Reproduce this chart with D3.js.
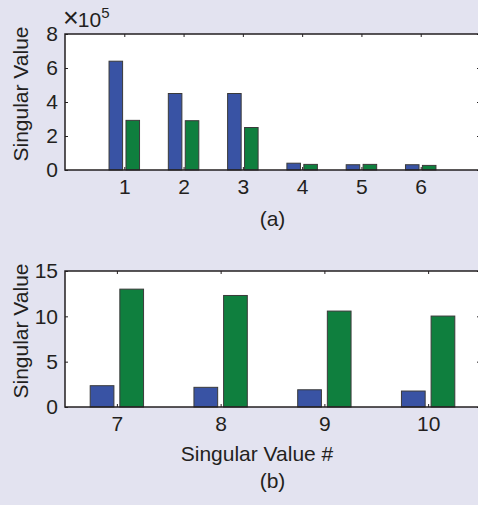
<!DOCTYPE html>
<html>
<head>
<meta charset="utf-8">
<script src="https://cdn.jsdelivr.net/npm/d3@7"></script>
<style>
  html, body { margin: 0; padding: 0; background: #e3e3f0; }
  svg { display: block; font-family: "Liberation Sans", Arial, Helvetica, sans-serif; }
</style>
</head>
<body>
<svg id="chart" width="478" height="505"></svg>
<script>
// Panel (a): first six singular values (units of 1e5)
const catsA = [1, 2, 3, 4, 5, 6];
const seriesA1 = [6.4, 4.5, 4.5, 0.4, 0.31, 0.31];
const seriesA2 = [2.92, 2.9, 2.5, 0.33, 0.33, 0.27];
const ticksAY = [0, 2, 4, 6, 8];

// Panel (b): singular values 7-10
const catsB = [7, 8, 9, 10];
const seriesB1 = [2.35, 2.17, 1.9, 1.76];
const seriesB2 = [13.0, 12.3, 10.58, 10.03];
const ticksBY = [0, 5, 10, 15];

const colors = ["#3953a4", "#0f7f3e"];
const ink = "#231f20";

const svg = d3.select("#chart");

// grouped-bar geometry in category units (two series per group)
const groupW = 2 / 3.5;
const barW = groupW / 2 * 0.8;
const offsets = [-groupW / 4, groupW / 4];

function panel(opt) {
  const { left, right, top, bottom, xDomain, yDomain, cats, s1, s2, yTicks, label, tagY } = opt;
  const x = d3.scaleLinear().domain(xDomain).range([left, right]);
  const y = d3.scaleLinear().domain(yDomain).range([bottom, top]);
  const g = svg.append("g");

  // plot background
  g.append("rect").attr("x", left).attr("y", top)
    .attr("width", right - left).attr("height", bottom - top)
    .attr("fill", "#ffffff");

  // bars
  [s1, s2].forEach((s, si) => {
    g.selectAll(null).data(cats).enter().append("rect")
      .attr("x", (d) => x(d + offsets[si] - barW / 2))
      .attr("width", (d) => x(d + offsets[si] + barW / 2) - x(d + offsets[si] - barW / 2))
      .attr("y", (d, i) => y(s[i]))
      .attr("height", (d, i) => y(0) - y(s[i]))
      .attr("fill", colors[si])
      .attr("stroke", "#3a3a3a")
      .attr("stroke-width", 1);
  });

  const tickLen = 3;
  const axStyle = (sel) => {
    sel.select(".domain").remove();
    sel.selectAll(".tick line").attr("stroke", ink).attr("stroke-width", 1);
    sel.selectAll(".tick text").attr("fill", ink).style("font-size", "21px")
      .style("font-family", "'Liberation Sans', Arial, sans-serif");
  };

  // bottom axis (inward ticks)
  g.append("g").attr("transform", `translate(0,${bottom})`)
    .call(d3.axisBottom(x).tickValues(cats).tickFormat(d3.format("d"))
      .tickSizeInner(-tickLen).tickSizeOuter(0).tickPadding(9))
    .call(axStyle);
  // top axis ticks
  g.append("g").attr("transform", `translate(0,${top})`)
    .call(d3.axisTop(x).tickValues(cats).tickFormat("")
      .tickSizeInner(-tickLen).tickSizeOuter(0))
    .call(axStyle);
  // left axis
  g.append("g").attr("transform", `translate(${left},0)`)
    .call(d3.axisLeft(y).tickValues(yTicks).tickFormat(d3.format("d"))
      .tickSizeInner(-tickLen).tickSizeOuter(0).tickPadding(7))
    .call(axStyle);
  // right axis ticks
  g.append("g").attr("transform", `translate(${right},0)`)
    .call(d3.axisRight(y).tickValues(yTicks).tickFormat("")
      .tickSizeInner(-tickLen).tickSizeOuter(0))
    .call(axStyle);

  // frame
  g.append("rect").attr("x", left).attr("y", top)
    .attr("width", right - left).attr("height", bottom - top)
    .attr("fill", "none").attr("stroke", ink).attr("stroke-width", 1.5);

  // y label
  g.append("text")
    .attr("transform", `translate(28,${(top + bottom) / 2 - 8}) rotate(-90)`)
    .attr("text-anchor", "middle")
    .attr("fill", ink)
    .style("font-size", "21px")
    .text("Singular Value");

  // panel tag
  g.append("text").attr("x", (left + right) / 2).attr("y", tagY)
    .attr("text-anchor", "middle").attr("fill", ink)
    .style("font-size", "21px").text(label);

  return { x, y };
}

const left = 65, right = 480;

panel({ left, right, top: 34, bottom: 170, xDomain: [0, 7], yDomain: [0, 8],
  cats: catsA, s1: seriesA1, s2: seriesA2, yTicks: ticksAY, label: "(a)", tagY: 226 });

panel({ left, right, top: 271, bottom: 407, xDomain: [6.5, 10.5], yDomain: [0, 15],
  cats: catsB, s1: seriesB1, s2: seriesB2, yTicks: ticksBY, label: "(b)", tagY: 488 });

// exponent marker for panel (a)
const expo = svg.append("text").attr("x", 63).attr("y", 27)
  .attr("fill", ink).style("font-size", "21px");
expo.append("tspan").style("font-size", "27px").text("\u00d7");
expo.append("tspan").attr("dx", -1).text("10");
expo.append("tspan").attr("dy", -9).style("font-size", "15px").text("5");

// x-axis title for panel (b)
svg.append("text").attr("x", 257).attr("y", 461)
  .attr("text-anchor", "middle").attr("fill", ink)
  .style("font-size", "21px").text("Singular Value #");
</script>
</body>
</html>
